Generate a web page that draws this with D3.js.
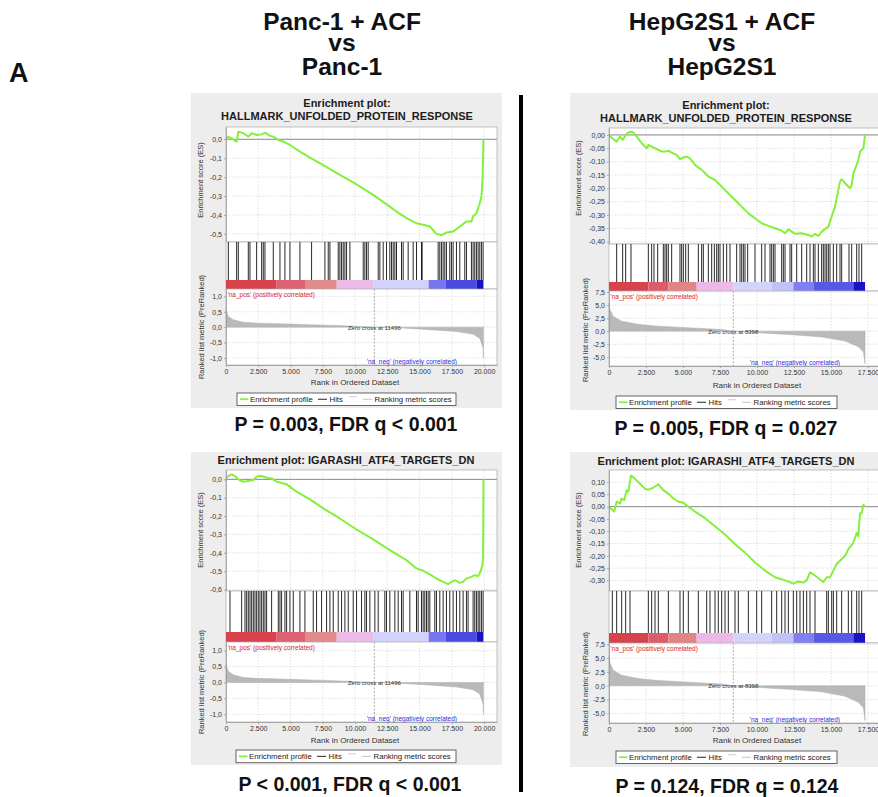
<!DOCTYPE html>
<html>
<head>
<meta charset="utf-8">
<script src="https://cdn.jsdelivr.net/npm/d3@7"></script>
<style>
  body { margin: 0; background: #fff; }
  svg { display: block; font-family: 'Liberation Sans', Arial, sans-serif; }
  .hdr { font-size: 24.5px; font-weight: bold; fill: #111; }
  .ttl { font-size: 11px; font-weight: bold; fill: #1c1c1c; }
  .stat { font-size: 19.5px; font-weight: bold; fill: #111; }
  .tick text { font-size: 7px; fill: #333; }
  .lbl { font-size: 7.5px; fill: #333; }
  .leg { font-size: 7.8px; fill: #222; }
</style>
</head>
<body>
<svg id="drawing_region"></svg>
<script>
// ---- data ----
const headerLeft = ["Panc-1 + ACF", "vs", "Panc-1"];
const headerRight = ["HepG2S1 + ACF", "vs", "HepG2S1"];
const titleUpr = ["Enrichment plot:", "HALLMARK_UNFOLDED_PROTEIN_RESPONSE"];
const titleAtf = ["Enrichment plot: IGARASHI_ATF4_TARGETS_DN"];
const stats = ["P = 0.003, FDR q < 0.001", "P = 0.005, FDR q = 0.027",
               "P < 0.001, FDR q < 0.001", "P = 0.124, FDR q = 0.124"];

const nPanc = 19950, nHep = 17300;
const zeroPanc = 11496, zeroHep = 8398;

const xTicksPanc = [0, 2500, 5000, 7500, 10000, 12500, 15000, 17500, 20000];
const xTicksHep = [0, 2500, 5000, 7500, 10000, 12500, 15000, 17500];
const esTicksUprPanc = [0, -0.1, -0.2, -0.3, -0.4, -0.5];
const esTicksUprHep = [0, -0.05, -0.1, -0.15, -0.2, -0.25, -0.3, -0.35, -0.4];
const esTicksAtfPanc = [0, -0.1, -0.2, -0.3, -0.4, -0.5, -0.6];
const esTicksAtfHep = [0.1, 0.05, 0, -0.05, -0.1, -0.15, -0.2, -0.25, -0.3];
const metTicksPanc = [1, 0.5, 0, -0.5, -1];
const metTicksHep = [7.5, 5, 2.5, 0, -2.5, -5];

// running enrichment score, [rank, ES]
const esUprPanc = [[0,-0.004],[180,0.014],[439,0.005],[826,-0.012],[955,0.040],[1342,0.032],[1729,0.014],[1987,0.032],
  [2374,0.023],[2761,0.026],[3019,0.035],[3406,0.018],[3665,0.014],[4052,-0.004],[4439,-0.012],[4955,-0.030],[5729,-0.065],
  [6503,-0.097],[7535,-0.136],[8826,-0.188],[10116,-0.238],[11406,-0.294],[12697,-0.356],[13213,-0.382],[13987,-0.417],
  [14761,-0.444],[15277,-0.452],[15794,-0.461],[16310,-0.500],[16697,-0.507],[17084,-0.493],[17600,-0.488],[18116,-0.461],
  [18632,-0.435],[19019,-0.435],[19148,-0.408],[19406,-0.391],[19665,-0.338],[19794,-0.303],[19871,-0.232],[19923,-0.092],[19950,0]];
const esUprHep = [[0,0],[293,-0.016],[518,-0.025],[743,-0.006],[923,-0.019],[1126,0],[1306,0.009],[1486,0.0125],[1644,0.009],
  [1869,-0.006],[2207,-0.031],[2545,-0.05],[2658,-0.0375],[2883,-0.044],[3108,-0.05],[3559,-0.0625],[3784,-0.0625],[4009,-0.059],
  [4234,-0.066],[4572,-0.075],[4797,-0.091],[5023,-0.085],[5248,-0.081],[5473,-0.0875],[5811,-0.1125],[6261,-0.131],[6712,-0.156],
  [7162,-0.169],[7613,-0.194],[8063,-0.219],[8514,-0.244],[8964,-0.269],[9414,-0.294],[9865,-0.3125],[10315,-0.331],[10766,-0.341],
  [11216,-0.35],[11667,-0.359],[11892,-0.369],[12117,-0.354],[12342,-0.3625],[12568,-0.371],[13018,-0.369],[13468,-0.375],
  [13694,-0.381],[13919,-0.371],[14144,-0.379],[14369,-0.3625],[14820,-0.344],[15045,-0.306],[15270,-0.269],[15496,-0.206],
  [15608,-0.175],[15721,-0.166],[15946,-0.181],[16284,-0.2],[16396,-0.1875],[16509,-0.144],[16734,-0.1125],[16847,-0.094],
  [16959,-0.0625],[17072,-0.056],[17185,-0.05],[17300,0]];
const esAtfPanc = [[0,0.005],[180,0.018],[439,0.027],[697,0.018],[955,0],[1342,-0.013],[1729,-0.009],[2116,-0.004],[2374,0.015],
  [2761,0.018],[3148,0.009],[3535,0.005],[3923,-0.013],[4697,-0.027],[5471,-0.067],[6503,-0.109],[7535,-0.158],[8826,-0.213],
  [10116,-0.273],[11406,-0.327],[12697,-0.385],[13987,-0.44],[14761,-0.485],[15277,-0.498],[15794,-0.518],[16310,-0.54],
  [16826,-0.558],[17213,-0.571],[17471,-0.558],[17729,-0.549],[18116,-0.564],[18374,-0.558],[18632,-0.54],[19019,-0.531],
  [19277,-0.522],[19535,-0.527],[19716,-0.504],[19871,-0.467],[19923,-0.422],[19940,-0.204],[19950,0]];
const esAtfHep = [[0,0],[180,-0.011],[360,-0.02],[518,0.02],[743,0.013],[856,0.033],[1036,0.027],[1194,0.067],[1306,0.06],
  [1486,0.127],[1757,0.113],[2095,0.093],[2432,0.073],[2658,0.069],[2995,0.077],[3333,0.091],[3671,0.067],[4009,0.053],
  [4347,0.033],[4685,0.02],[5023,0.016],[5360,0],[5811,-0.02],[6486,-0.047],[7162,-0.08],[7838,-0.113],[8514,-0.153],
  [9189,-0.187],[9865,-0.227],[10541,-0.26],[11216,-0.287],[11554,-0.293],[11892,-0.3],[12230,-0.307],[12455,-0.313],
  [12793,-0.304],[13131,-0.309],[13356,-0.3],[13581,-0.267],[13919,-0.28],[14257,-0.296],[14482,-0.307],[14707,-0.287],
  [14932,-0.287],[15158,-0.26],[15383,-0.233],[15721,-0.213],[15946,-0.2],[16171,-0.173],[16509,-0.147],[16734,-0.107],
  [16847,-0.12],[16959,-0.027],[17072,-0.027],[17185,0.007],[17300,0]];

// gene set hit positions (rank)
const hitsUprPanc = [180,826,955,1729,1858,2374,2761,2890,3019,3665,4181,4568,4955,5729,6632,7665,7923,8052,8697,8826,8955,
  9084,9213,9342,9600,10632,10761,10890,11019,11794,11923,12181,12439,12697,12826,12955,13084,13213,13600,13729,14116,14503,
  14761,15148,15200,16439,16568,16697,16826,16955,17084,17342,17471,17600,17858,18116,18503,18632,19019,19148,19277,19406,
  19535,19665,19794,19923];
const hitsUprHep = [518,923,1126,1486,2658,2883,3041,3288,3671,3784,3896,4009,4234,4797,4910,5023,5180,5360,6036,6261,6374,
  6712,6937,7117,7275,7387,7500,7725,7950,8176,8626,8851,8964,9077,9189,9369,9865,10315,10541,10878,10991,11104,11216,11667,
  11779,11892,12230,12342,12680,13018,13356,13581,13806,13919,14144,14369,14482,14595,14707,14820,14932,15158,15383,15608,
  15721,16216,16396,16734,16892,17072];
const hitsAtfPanc = [310,1213,1471,1600,1729,1858,1987,2116,2245,2374,2503,2632,2761,2890,3019,3148,3535,4052,4181,4310,4568,
  4697,4955,5213,5729,6116,6761,7019,7406,7794,8052,8310,8697,8955,9213,9471,9858,10116,10503,10761,10890,11148,11535,11794,
  12310,12439,12697,13084,13342,13600,13729,14245,14761,14890,15148,15277,15406,15535,15665,15794,16181,16310,16568,16826,
  17084,17342,17600,17858,18116,18374,18632,18761,19148,19277,19406,19535,19665,19794,19923];
const hitsAtfHep = [225,518,856,1126,1419,2658,2883,3108,3333,4009,4797,5023,5360,6036,6599,6824,7162,7387,7613,7838,8063,
  8514,8739,9414,9977,10315,10991,11329,11667,11892,12117,12455,12680,12905,13131,13356,13581,13919,14707,14820,15045,15158,
  15383,15721,16171,16396,16734,16892,17072];

// ranked list metric, [rank, value]
const metricPanc = [[0,0.57],[180,0.35],[570,0.24],[1340,0.16],[2370,0.13],[4950,0.10],[6500,0.08],[8830,0.05],[11000,0.01],
  [11496,0],[13600,-0.03],[15150,-0.065],[17860,-0.14],[19150,-0.23],[19660,-0.36],[19920,-0.68],[19950,-1.0]];
const metricHep = [[0,5.4],[68,4.1],[293,2.8],[856,1.9],[1982,1.3],[3108,1.0],[5360,0.65],[7613,0.32],[8398,0],[9865,-0.26],
  [12117,-0.65],[14369,-1.1],[15946,-1.9],[16847,-3.0],[17185,-4.0],[17300,-6.3]];

// heat bar under the hits
const barPancEdges = [0, 3930, 6124, 8580, 11400, 15700, 17000, 19430, 19950];
const barPancColors = ['#d8424c', '#dc6272', '#e28a8a', '#ecbce8', '#d2d2fa', '#7676ee', '#4a4ae2', '#1a12c2'];
const barHepEdges = [0, 2658, 4009, 5923, 8398, 10991, 12455, 13806, 16509, 17300];
const barHepColors = ['#d8424c', '#dc5c6c', '#e28484', '#ecb8ea', '#d4d4fa', '#c2c2f8', '#8080f0', '#5858e6', '#1a12c8'];

// ---- layout ----
const svg = d3.select('#drawing_region').attr('width', 878).attr('height', 797);
const loc = d3.formatLocale({decimal: ',', thousands: '.', grouping: [3], currency: ['', ''], minus: '-'});

const panels = [
  {bg: [191, 93, 311, 315], cx: 347, titleY: [107, 119.5], left: 226, right: 497, xMax: 21000,
   esTop: 127, esBottom: 242, esDomain: [-0.543, 0.065], hitsBottom: 280, barBottom: 289,
   metTop: 289, metBottom: 365, metDomain: [-1.23, 1.24], axisTitleY: 385,
   legend: [237, 393, 219, 12.5], stat: [346, 431], esLabel: [203, 180], metLabel: [204, 327],
   title: titleUpr, es: esUprPanc, hits: hitsUprPanc, metric: metricPanc, n: nPanc, zero: zeroPanc,
   barEdges: barPancEdges, barColors: barPancColors, xTicks: xTicksPanc, esTicks: esTicksUprPanc,
   esFmt: '.1f', metTicks: metTicksPanc, statText: stats[0]},
  {bg: [570, 93, 308, 317], cx: 726, titleY: [109, 121.5], left: 609, right: 880, xMax: 18310,
   esTop: 128, esBottom: 244, esDomain: [-0.409, 0.026], hitsBottom: 282, barBottom: 291,
   metTop: 291, metBottom: 366, metDomain: [-6.67, 7.69], axisTitleY: 387.5,
   legend: [616, 396, 221, 12.5], stat: [726, 435], esLabel: [581, 178], metLabel: [588, 330],
   title: titleUpr, es: esUprHep, hits: hitsUprHep, metric: metricHep, n: nHep, zero: zeroHep,
   barEdges: barHepEdges, barColors: barHepColors, xTicks: xTicksHep, esTicks: esTicksUprHep,
   esFmt: '.2f', metTicks: metTicksHep, statText: stats[1]},
  {bg: [191, 452, 311, 313], cx: 346, titleY: [464], left: 226, right: 497, xMax: 21000,
   esTop: 470, esBottom: 591, esDomain: [-0.608, 0.051], hitsBottom: 632, barBottom: 642,
   metTop: 642, metBottom: 722, metDomain: [-1.24, 1.27], axisTitleY: 742.5,
   legend: [236, 750, 220, 12.7], stat: [350, 791], esLabel: [203, 530], metLabel: [204, 682],
   title: titleAtf, es: esAtfPanc, hits: hitsAtfPanc, metric: metricPanc, n: nPanc, zero: zeroPanc,
   barEdges: barPancEdges, barColors: barPancColors, xTicks: xTicksPanc, esTicks: esTicksAtfPanc,
   esFmt: '.1f', metTicks: metTicksPanc, statText: stats[2]},
  {bg: [570, 452, 308, 315], cx: 726, titleY: [464.5], left: 609, right: 880, xMax: 18310,
   esTop: 470, esBottom: 591, esDomain: [-0.343, 0.149], hitsBottom: 633, barBottom: 643,
   metTop: 643, metBottom: 723, metDomain: [-6.74, 7.74], axisTitleY: 743,
   legend: [616, 751, 221, 12.5], stat: [727, 793], esLabel: [581, 530], metLabel: [588, 684],
   title: titleAtf, es: esAtfHep, hits: hitsAtfHep, metric: metricHep, n: nHep, zero: zeroHep,
   barEdges: barHepEdges, barColors: barHepColors, xTicks: xTicksHep, esTicks: esTicksAtfHep,
   esFmt: '.2f', metTicks: metTicksHep, statText: stats[3]}
];

// headers
const hdrY = [29.5, 50.5, 74.5];
headerLeft.forEach((t, i) => svg.append('text').attr('class', 'hdr').attr('x', 342).attr('y', hdrY[i])
  .attr('text-anchor', 'middle').text(t));
headerRight.forEach((t, i) => svg.append('text').attr('class', 'hdr').attr('x', 722).attr('y', hdrY[i])
  .attr('text-anchor', 'middle').text(t));
svg.append('text').attr('class', 'hdr').attr('x', 9).attr('y', 82).style('font-size', '27px').text('A');

// divider
svg.append('rect').attr('x', 519).attr('y', 95).attr('width', 4).attr('height', 697).attr('fill', '#000');

function styleAxis(sel) {
  sel.select('.domain').attr('stroke', '#999').attr('stroke-width', 0.8);
  sel.selectAll('.tick line').attr('stroke', '#999').attr('stroke-width', 0.8);
}

function grid(g, x, xTicks, yScale, yTicks, top, bottom, left, right) {
  g.append('g').selectAll('line').data(xTicks.filter(t => t > 0)).join('line')
    .attr('x1', d => x(d)).attr('x2', d => x(d)).attr('y1', top).attr('y2', bottom)
    .attr('stroke', '#d4d4d4').attr('stroke-width', 0.7).attr('stroke-dasharray', '1.5,1.5');
  g.append('g').selectAll('line').data(yTicks).join('line')
    .attr('x1', left).attr('x2', right).attr('y1', d => yScale(d)).attr('y2', d => yScale(d))
    .attr('stroke', '#d4d4d4').attr('stroke-width', 0.7).attr('stroke-dasharray', '1.5,1.5');
}

function drawPanel(p) {
  const g = svg.append('g');
  g.append('rect').attr('x', p.bg[0]).attr('y', p.bg[1]).attr('width', p.bg[2]).attr('height', p.bg[3])
    .attr('fill', '#ededed');

  p.title.forEach((t, i) => g.append('text').attr('class', 'ttl').attr('x', p.cx).attr('y', p.titleY[i])
    .attr('text-anchor', 'middle').text(t));

  const x = d3.scaleLinear().domain([0, p.xMax]).range([p.left, p.right]);
  const yEs = d3.scaleLinear().domain(p.esDomain).range([p.esBottom, p.esTop]);
  const yMet = d3.scaleLinear().domain(p.metDomain).range([p.metBottom, p.metTop]);
  const w = p.right - p.left;

  // enrichment score plot
  g.append('rect').attr('x', p.left).attr('y', p.esTop).attr('width', w).attr('height', p.esBottom - p.esTop)
    .attr('fill', '#fff');
  grid(g, x, p.xTicks, yEs, p.esTicks, p.esTop, p.esBottom, p.left, p.right);
  g.append('line').attr('x1', p.left).attr('x2', p.right).attr('y1', yEs(0)).attr('y2', yEs(0))
    .attr('stroke', '#8c8c8c').attr('stroke-width', 1);
  g.append('path').datum(p.es)
    .attr('d', d3.line().x(d => x(d[0])).y(d => yEs(d[1])))
    .attr('fill', 'none').attr('stroke', '#84f03a').attr('stroke-width', 2).attr('stroke-linejoin', 'round');
  g.append('rect').attr('x', p.left).attr('y', p.esTop).attr('width', w).attr('height', p.esBottom - p.esTop)
    .attr('fill', 'none').attr('stroke', '#aaa').attr('stroke-width', 0.7);
  g.append('g').attr('transform', `translate(${p.left},0)`)
    .call(d3.axisLeft(yEs).tickValues(p.esTicks).tickFormat(loc.format(p.esFmt)).tickSize(2).tickSizeOuter(0).tickPadding(2))
    .call(styleAxis);

  // hits + heat bar
  g.append('rect').attr('x', p.left).attr('y', p.esBottom).attr('width', w).attr('height', p.barBottom - p.esBottom)
    .attr('fill', '#fff').attr('stroke', '#aaa').attr('stroke-width', 0.7);
  g.append('g').selectAll('line').data(p.hits).join('line')
    .attr('x1', d => x(d)).attr('x2', d => x(d)).attr('y1', p.esBottom).attr('y2', p.hitsBottom)
    .attr('stroke', '#111').attr('stroke-width', 0.9);
  g.append('g').selectAll('rect').data(p.barColors).join('rect')
    .attr('x', (d, i) => x(p.barEdges[i])).attr('width', (d, i) => x(p.barEdges[i + 1]) - x(p.barEdges[i]))
    .attr('y', p.hitsBottom).attr('height', p.barBottom - p.hitsBottom).attr('fill', d => d);

  // ranked list metric
  g.append('rect').attr('x', p.left).attr('y', p.metTop).attr('width', w).attr('height', p.metBottom - p.metTop)
    .attr('fill', '#fff');
  grid(g, x, p.xTicks, yMet, p.metTicks, p.metTop, p.metBottom, p.left, p.right);
  g.append('path').datum(p.metric)
    .attr('d', d3.area().x(d => x(d[0])).y0(yMet(0)).y1(d => yMet(d[1])))
    .attr('fill', '#b9b9b9').attr('stroke', '#b0b0b0').attr('stroke-width', 0.5);
  g.append('line').attr('x1', x(p.zero)).attr('x2', x(p.zero)).attr('y1', p.metTop).attr('y2', p.metBottom)
    .attr('stroke', '#888').attr('stroke-width', 0.7).attr('stroke-dasharray', '2,1.5');
  g.append('rect').attr('x', p.left).attr('y', p.metTop).attr('width', w).attr('height', p.metBottom - p.metTop)
    .attr('fill', 'none').attr('stroke', '#aaa').attr('stroke-width', 0.7);
  g.append('text').attr('x', x(p.zero)).attr('y', yMet(0) + 2.5).attr('text-anchor', 'middle')
    .style('font-size', '6px').attr('fill', '#333').text('Zero cross at ' + p.zero);
  g.append('text').attr('x', p.left + 1.5).attr('y', p.metTop + 7.5).style('font-size', '6.5px')
    .attr('fill', '#d4282c').text("'na_pos' (positively correlated)");
  g.append('text').attr('x', p.right - 40).attr('y', p.metBottom - 1.5).attr('text-anchor', 'end')
    .style('font-size', '6.5px').attr('fill', '#2c2ce0').text("'na_neg' (negatively correlated)");
  g.append('g').attr('transform', `translate(${p.left},0)`)
    .call(d3.axisLeft(yMet).tickValues(p.metTicks).tickFormat(loc.format('.1f')).tickSize(2).tickSizeOuter(0).tickPadding(2))
    .call(styleAxis);
  g.append('g').attr('transform', `translate(0,${p.metBottom})`)
    .call(d3.axisBottom(x).tickValues(p.xTicks).tickFormat(loc.format(',d')).tickSize(2).tickSizeOuter(0).tickPadding(2.5))
    .call(styleAxis);

  // axis titles
  g.append('text').attr('class', 'lbl').attr('text-anchor', 'middle')
    .attr('transform', `translate(${p.esLabel[0]},${p.esLabel[1]}) rotate(-90)`).text('Enrichment score (ES)');
  g.append('text').attr('class', 'lbl').attr('text-anchor', 'middle')
    .attr('transform', `translate(${p.metLabel[0]},${p.metLabel[1]}) rotate(-90)`).text('Ranked list metric (PreRanked)');
  g.append('text').attr('class', 'lbl').style('font-size', '8px').attr('text-anchor', 'middle')
    .attr('x', x(10000)).attr('y', p.axisTitleY).text('Rank in Ordered Dataset');

  // legend
  const [lx, ly, lw, lh] = p.legend;
  const lg = g.append('g').attr('transform', `translate(${lx},${ly})`);
  lg.append('rect').attr('width', lw).attr('height', lh).attr('fill', '#fff').attr('stroke', '#555').attr('stroke-width', 0.9);
  const my = lh / 2;
  lg.append('line').attr('x1', 3).attr('x2', 11.5).attr('y1', my).attr('y2', my).attr('stroke', '#84f03a').attr('stroke-width', 1.8);
  lg.append('text').attr('class', 'leg').attr('x', 13).attr('y', my + 2.8).text('Enrichment profile');
  lg.append('line').attr('x1', 81).attr('x2', 90).attr('y1', my).attr('y2', my).attr('stroke', '#222').attr('stroke-width', 1);
  lg.append('text').attr('class', 'leg').attr('x', 92.5).attr('y', my + 2.8).text('Hits');
  lg.append('line').attr('x1', 112).attr('x2', 120).attr('y1', my - 2.5).attr('y2', my - 2.5).attr('stroke', '#ccc').attr('stroke-width', 1);
  lg.append('line').attr('x1', 126).attr('x2', 135).attr('y1', my).attr('y2', my).attr('stroke', '#c4c4c4').attr('stroke-width', 1);
  lg.append('text').attr('class', 'leg').attr('x', 137.5).attr('y', my + 2.8).text('Ranking metric scores');

  // statistics under the panel
  svg.append('text').attr('class', 'stat').attr('x', p.stat[0]).attr('y', p.stat[1]).attr('text-anchor', 'middle')
    .text(p.statText);
}

panels.forEach(drawPanel);
</script>
</body>
</html>
